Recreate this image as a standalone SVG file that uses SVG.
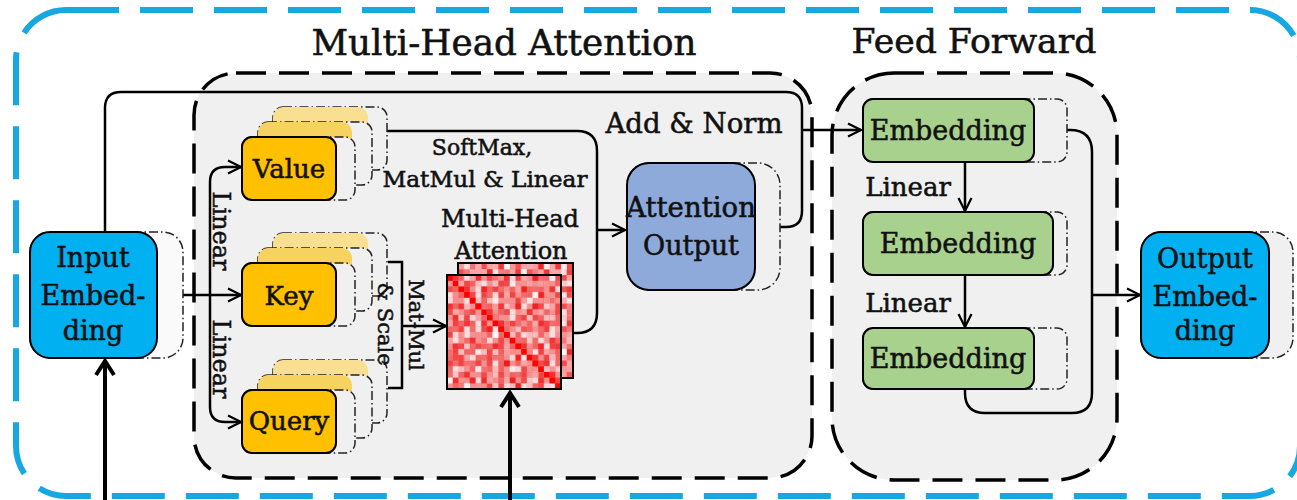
<svg xmlns="http://www.w3.org/2000/svg" xmlns:xlink="http://www.w3.org/1999/xlink" width="1297" height="500" viewBox="0 0 1297 500">
  <style>
    .lbl { font-family: "DejaVu Serif", "Liberation Serif", serif; fill: #111; stroke: #111; stroke-width: 0.55; text-anchor: middle; }
    .conn { fill: none; stroke: #000; stroke-width: 2.5; }
    .thick { fill: none; stroke: #000; stroke-width: 4; }
    .sh { fill: #f0f0f0; stroke: #222; stroke-width: 1.5; stroke-dasharray: 9 3 1.5 3; }
    .panel { fill: #f0f0f0; stroke: #000; stroke-width: 3.5; stroke-dasharray: 30 13; }
    .edge { stroke: #000; stroke-width: 2; }
  </style>
  <defs>
    <marker id="ah" viewBox="0 0 16 16" refX="15" refY="8" markerWidth="16" markerHeight="16" markerUnits="userSpaceOnUse" orient="auto">
      <path d="M2,1.5 L15,8 L2,14.5" fill="none" stroke="#000" stroke-width="2.2"/>
    </marker>
    <marker id="ahT" viewBox="0 0 22 22" refX="19" refY="11" markerWidth="22" markerHeight="22" markerUnits="userSpaceOnUse" orient="auto">
      <path d="M5,2 L19,11 L5,20" fill="none" stroke="#000" stroke-width="4"/>
    </marker>

    <!-- heat-map cell patterns with co-prime periods -->
    <pattern id="pA" patternUnits="userSpaceOnUse" x="447" y="275" width="28.5" height="28.5">
      <g fill="#ee0000" fill-opacity="0.55">
        <rect x="0" y="0" width="5.7" height="5.7"/><rect x="17.1" y="11.4" width="5.7" height="5.7"/><rect x="11.4" y="22.8" width="5.7" height="5.7"/><rect x="5.7" y="17.1" width="5.7" height="5.7"/>
      </g>
      <g fill="#ee0000" fill-opacity="0.32">
        <rect x="11.4" y="0" width="5.7" height="5.7"/><rect x="22.8" y="5.7" width="5.7" height="5.7"/><rect x="5.7" y="11.4" width="5.7" height="5.7"/><rect x="22.8" y="17.1" width="5.7" height="5.7"/>
      </g>
      <g fill="#fff" fill-opacity="0.7">
        <rect x="5.7" y="5.7" width="5.7" height="5.7"/><rect x="17.1" y="22.8" width="5.7" height="5.7"/><rect x="0" y="17.1" width="5.7" height="5.7"/><rect x="17.1" y="0" width="5.7" height="5.7"/>
      </g>
    </pattern>
    <pattern id="pB" patternUnits="userSpaceOnUse" x="447" y="275" width="39.9" height="39.9">
      <g fill="#ee0000" fill-opacity="0.5">
        <rect x="5.7" y="0" width="5.7" height="5.7"/><rect x="17.1" y="5.7" width="5.7" height="5.7"/><rect x="34.2" y="11.4" width="5.7" height="5.7"/><rect x="22.8" y="22.8" width="5.7" height="5.7"/><rect x="28.5" y="28.5" width="5.7" height="5.7"/><rect x="0" y="34.2" width="5.7" height="5.7"/><rect x="11.4" y="28.5" width="5.7" height="5.7"/>
      </g>
      <g fill="#ee0000" fill-opacity="0.3">
        <rect x="28.5" y="0" width="5.7" height="5.7"/><rect x="0" y="11.4" width="5.7" height="5.7"/><rect x="11.4" y="17.1" width="5.7" height="5.7"/><rect x="5.7" y="28.5" width="5.7" height="5.7"/><rect x="17.1" y="34.2" width="5.7" height="5.7"/><rect x="34.2" y="22.8" width="5.7" height="5.7"/><rect x="11.4" y="5.7" width="5.7" height="5.7"/>
      </g>
      <g fill="#fff" fill-opacity="0.65">
        <rect x="22.8" y="0" width="5.7" height="5.7"/><rect x="5.7" y="17.1" width="5.7" height="5.7"/><rect x="28.5" y="11.4" width="5.7" height="5.7"/><rect x="17.1" y="28.5" width="5.7" height="5.7"/><rect x="34.2" y="34.2" width="5.7" height="5.7"/><rect x="0" y="22.8" width="5.7" height="5.7"/>
      </g>
    </pattern>
    <pattern id="pC" patternUnits="userSpaceOnUse" x="447" y="275" width="17.1" height="17.1">
      <rect x="5.7" y="0" width="5.7" height="5.7" fill="#ee0000" fill-opacity="0.25"/>
      <rect x="0" y="11.4" width="5.7" height="5.7" fill="#ee0000" fill-opacity="0.25"/>
      <rect x="11.4" y="5.7" width="5.7" height="5.7" fill="#fff" fill-opacity="0.4"/>
    </pattern>

    <!-- three stacked projection cards, front card top-left at (0,0) -->
    <g id="stack">
      <rect class="sh" x="31" y="-30" width="114" height="63" rx="10"/>
      <rect x="31" y="-30" width="95" height="63" rx="10" fill="#f8df91"/>
      <rect class="sh" x="16" y="-15" width="114" height="63" rx="10"/>
      <rect x="16" y="-15" width="94" height="63" rx="10" fill="#f6d25e"/>
      <rect class="sh" x="0" y="0" width="113" height="63" rx="10"/>
      <rect x="0" y="0" width="94" height="63" rx="10" fill="#ffc000" stroke="#000" stroke-width="2"/>
    </g>
  </defs>

  <!-- outer encoder frame -->
  <rect x="16" y="10" width="1284" height="486" rx="50" fill="none" stroke="#17a8e2" stroke-width="6" stroke-dasharray="53 21"/>

  <!-- section panels -->
  <g id="mha-panel">
    <rect class="panel" x="194" y="73" width="618" height="405" rx="42"/>
    <text class="lbl" x="504" y="55" font-size="35" textLength="385" lengthAdjust="spacingAndGlyphs">Multi-Head Attention</text>
  </g>
  <g id="ff-panel">
    <rect class="panel" x="832" y="73" width="285" height="407" rx="62"/>
    <text class="lbl" x="974" y="53" font-size="34" textLength="245" lengthAdjust="spacingAndGlyphs">Feed Forward</text>
  </g>

  <!-- connectors -->
  <g id="connectors">
    <path class="conn" d="M105,232 V108 Q105,92 121,92 H786 Q802,92 802,108 V211 Q802,227 786,227 H780"/>
    <path class="conn" d="M802,130 H861" marker-end="url(#ah)"/>
    <path class="conn" d="M183,295 H241" marker-end="url(#ah)"/>
    <path class="conn" d="M210,295 V182 Q210,167 225,167 H241" marker-end="url(#ah)"/>
    <path class="conn" d="M210,295 V407 Q210,422 225,422 H241" marker-end="url(#ah)"/>
    <path class="conn" d="M387,131 H577 Q597,131 597,151 V313 Q597,333 577,333 H573"/>
    <path class="conn" d="M597,230 H625" marker-end="url(#ah)"/>
    <path class="conn" d="M388,262 H402 V388 H388"/>
    <path class="conn" d="M402,326 H446" marker-end="url(#ah)"/>
    <path class="thick" d="M105,500 V361" marker-end="url(#ahT)"/>
    <path class="thick" d="M510,500 V393" marker-end="url(#ahT)"/>
    <path class="conn" d="M965,162 V211" marker-end="url(#ah)"/>
    <path class="conn" d="M965,275 V327" marker-end="url(#ah)"/>
    <path class="conn" d="M1067,130 H1070 Q1092,130 1092,152 V393 Q1092,413 1072,413 H985 Q965,413 965,393 V389"/>
    <path class="conn" d="M1092,295 H1140" marker-end="url(#ah)"/>
  </g>

  <!-- input embedding -->
  <g id="input-embedding">
    <rect class="sh" x="30" y="232" width="153" height="126" rx="20" style="fill:#fafafa"/>
    <rect x="30" y="232" width="127" height="126" rx="20" fill="#00b0f0" stroke="#000" stroke-width="2"/>
    <text class="lbl" font-size="27"><tspan x="93" y="267">Input</tspan><tspan x="93" y="305">Embed-</tspan><tspan x="93" y="340">ding</tspan></text>
  </g>

  <!-- value / key / query projections -->
  <g id="value">
    <use xlink:href="#stack" x="242" y="137"/>
    <text class="lbl" x="289" y="178" font-size="26">Value</text>
  </g>
  <g id="key">
    <use xlink:href="#stack" x="242" y="263"/>
    <text class="lbl" x="289" y="305" font-size="26">Key</text>
  </g>
  <g id="query">
    <use xlink:href="#stack" x="242" y="390"/>
    <text class="lbl" x="289" y="430" font-size="26">Query</text>
  </g>

  <!-- edge labels -->
  <g id="labels">
    <text class="lbl" font-size="24" transform="translate(213,231) rotate(90)">Linear</text>
    <text class="lbl" font-size="24" transform="translate(213,359) rotate(90)">Linear</text>
    <text class="lbl" font-size="21" transform="translate(409,325) rotate(90)">Mat-Mul</text>
    <text class="lbl" font-size="21" transform="translate(378,324) rotate(90)">&amp; Scale</text>
    <text class="lbl" x="482" y="155" font-size="22">SoftMax,</text>
    <text class="lbl" x="485" y="187" font-size="22" textLength="205" lengthAdjust="spacingAndGlyphs">MatMul &amp; Linear</text>
    <text class="lbl" x="694" y="133" font-size="27" textLength="177" lengthAdjust="spacingAndGlyphs">Add &amp; Norm</text>
    <text class="lbl" x="908" y="196" font-size="26">Linear</text>
    <text class="lbl" x="908" y="312" font-size="26">Linear</text>
  </g>

  <!-- attention score maps -->
  <g id="attention-map">
    <text class="lbl" x="510" y="227" font-size="24">Multi-Head</text>
    <text class="lbl" x="511" y="259" font-size="24">Attention</text>
    <g>
      <rect x="458" y="263" width="115" height="115" fill="#f6a6a6"/>
      <rect x="458" y="263" width="115" height="115" fill="url(#pA)"/>
      <rect x="458" y="263" width="115" height="115" fill="url(#pB)"/>
      <rect x="458" y="263" width="115" height="115" fill="url(#pC)"/>
      <rect x="458" y="263" width="115" height="115" fill="none" class="edge"/>
    </g>
    <g>
      <rect x="447" y="275" width="114" height="114" fill="#f49090"/>
      <rect x="447" y="275" width="114" height="114" fill="url(#pA)"/>
      <rect x="447" y="275" width="114" height="114" fill="url(#pB)"/>
      <rect x="447" y="275" width="114" height="114" fill="url(#pC)"/>
      <path fill="#f00" d="M447,275h5.7v5.7h-5.7z m5.7,5.7h5.7v5.7h-5.7z m5.7,5.7h5.7v5.7h-5.7z m5.7,5.7h5.7v5.7h-5.7z m5.7,5.7h5.7v5.7h-5.7z m5.7,5.7h5.7v5.7h-5.7z m5.7,5.7h5.7v5.7h-5.7z m5.7,5.7h5.7v5.7h-5.7z m5.7,5.7h5.7v5.7h-5.7z m5.7,5.7h5.7v5.7h-5.7z m5.7,5.7h5.7v5.7h-5.7z m5.7,5.7h5.7v5.7h-5.7z m5.7,5.7h5.7v5.7h-5.7z m5.7,5.7h5.7v5.7h-5.7z m5.7,5.7h5.7v5.7h-5.7z m5.7,5.7h5.7v5.7h-5.7z m5.7,5.7h5.7v5.7h-5.7z m5.7,5.7h5.7v5.7h-5.7z m5.7,5.7h5.7v5.7h-5.7z m5.7,5.7h5.7v5.7h-5.7z"/>
      <rect x="447" y="275" width="114" height="114" fill="none" class="edge"/>
    </g>
  </g>

  <!-- attention output -->
  <g id="attention-output">
    <rect class="sh" x="627" y="163" width="153" height="127" rx="22"/>
    <rect x="627" y="163" width="128" height="127" rx="22" fill="#8eaadb" stroke="#000" stroke-width="2"/>
    <text class="lbl" x="691" y="217" font-size="27" textLength="130" lengthAdjust="spacingAndGlyphs">Attention</text>
    <text class="lbl" x="691" y="255" font-size="27">Output</text>
  </g>

  <!-- feed-forward embeddings -->
  <g id="ff-embedding-1">
    <rect class="sh" x="863" y="99" width="204" height="63" rx="10"/>
    <rect x="863" y="99" width="171" height="63" rx="10" fill="#a9d18e" stroke="#000" stroke-width="2"/>
    <text class="lbl" x="948" y="140" font-size="27">Embedding</text>
  </g>
  <g id="ff-embedding-2">
    <rect class="sh" x="863" y="212" width="204" height="63" rx="10"/>
    <rect x="863" y="212" width="190" height="63" rx="10" fill="#a9d18e" stroke="#000" stroke-width="2"/>
    <text class="lbl" x="958" y="253" font-size="27">Embedding</text>
  </g>
  <g id="ff-embedding-3">
    <rect class="sh" x="863" y="328" width="204" height="61" rx="10"/>
    <rect x="863" y="328" width="171" height="61" rx="10" fill="#a9d18e" stroke="#000" stroke-width="2"/>
    <text class="lbl" x="948" y="368" font-size="27">Embedding</text>
  </g>

  <!-- output embedding -->
  <g id="output-embedding">
    <rect class="sh" x="1141" y="232" width="152" height="126" rx="20"/>
    <rect x="1141" y="232" width="128" height="126" rx="20" fill="#00b0f0" stroke="#000" stroke-width="2"/>
    <text class="lbl" font-size="27"><tspan x="1205" y="268">Output</tspan><tspan x="1205" y="306">Embed-</tspan><tspan x="1205" y="340">ding</tspan></text>
  </g>
</svg>
